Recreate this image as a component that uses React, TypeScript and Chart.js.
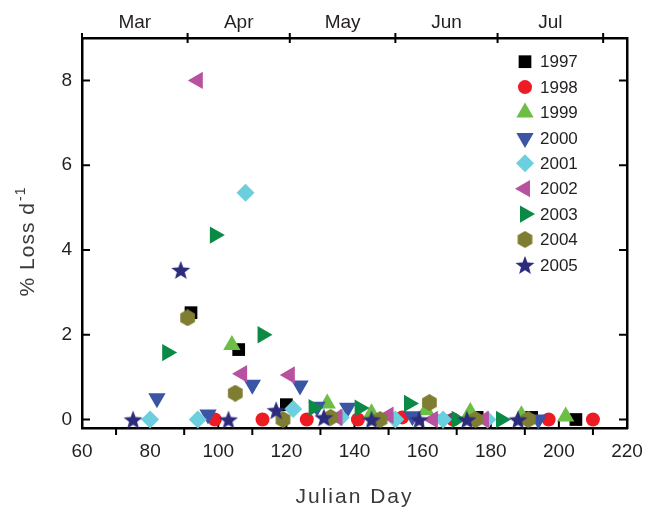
import React, { useEffect, useRef } from 'react';
import { Chart, registerables } from 'chart.js';
import { drawPoint } from 'chart.js/helpers';

Chart.register(...registerables);

// one entry per year, in legend order
const years = ['1997', '1998', '1999', '2000', '2001', '2002', '2003', '2004', '2005'];
const colors = ['#000000', '#ed1c24', '#6dbe45', '#3b55a5', '#6ccfdf', '#b8519f', '#0b8a45', '#7f7d32', '#2c2b7c'];

// Julian day / % loss per day
const day1997 = [92, 106, 120, 176, 192, 205];
const loss1997 = [2.52, 1.65, 0.35, 0.05, 0.05, 0];
const day1998 = [99, 113, 126, 141, 154, 169, 197, 210];
const loss1998 = [0, 0, 0, 0, 0.05, 0, 0, 0];
const day1999 = [104, 132, 145, 161, 174, 189, 202];
const loss1999 = [1.76, 0.38, 0.15, 0.22, 0.18, 0.1, 0.07];
const day2000 = [82, 97, 110, 124, 129, 138, 157, 166, 194];
const loss2000 = [0.5, 0.12, 0.82, 0.8, 0.3, 0.28, 0.08, 0, 0];
const day2001 = [80, 94, 108, 122, 136, 152, 166, 179];
const loss2001 = [0, 0, 5.35, 0.25, 0.05, 0, 0, 0];
const day2002 = [94, 107, 121, 135, 150, 163, 178];
const loss2002 = [8.0, 1.08, 1.05, 0.05, 0.1, 0, 0];
const day2003 = [85, 99, 113, 128, 141.5, 156, 170, 183];
const loss2003 = [1.58, 4.35, 2.0, 0.28, 0.27, 0.38, 0, 0];
const day2004 = [91, 105, 119, 133, 147.5, 162, 175.5, 191];
const loss2004 = [2.4, 0.62, 0, 0.05, 0, 0.4, 0, 0];
const day2005 = [75, 89, 103, 117, 131, 145, 159, 173, 188];
const loss2005 = [0, 3.53, 0, 0.22, 0.05, 0, 0, 0, 0];

const allDays = [day1997, day1998, day1999, day2000, day2001, day2002, day2003, day2004, day2005];
const allLoss = [loss1997, loss1998, loss1999, loss2000, loss2001, loss2002, loss2003, loss2004, loss2005];

const xTicks = [60, 80, 100, 120, 140, 160, 180, 200, 220];
const xMinorTicks = [70, 90, 110, 130, 150, 170, 190, 210];
const yTicks = [0, 2, 4, 6, 8];
const months = ['Mar', 'Apr', 'May', 'Jun', 'Jul'];
const monthStarts = [60, 91, 121, 152, 182, 213];

const tickFont = { family: '"Liberation Sans", Arial, sans-serif', size: 19 };
const textColor = '#231f20';

function makeStar(size: number, color: string) {
  const c = document.createElement('canvas');
  c.width = size;
  c.height = size;
  const ctx = c.getContext('2d')!;
  const R = size / 2;
  const r = R * 0.42;
  ctx.beginPath();
  for (let i = 0; i < 10; i++) {
    const a = -Math.PI / 2 + (i * Math.PI) / 5;
    const rad = i % 2 === 0 ? R : r;
    ctx.lineTo(R + rad * Math.cos(a), R + 1 + rad * Math.sin(a));
  }
  ctx.closePath();
  ctx.fillStyle = color;
  ctx.fill();
  return c;
}

function makeHex(size: number, color: string) {
  const c = document.createElement('canvas');
  c.width = size;
  c.height = size;
  const ctx = c.getContext('2d')!;
  const R = size / 2;
  ctx.beginPath();
  for (let i = 0; i < 6; i++) {
    const a = -Math.PI / 2 + (i * Math.PI) / 3;
    ctx.lineTo(R + R * Math.cos(a), R + R * Math.sin(a));
  }
  ctx.closePath();
  ctx.fillStyle = color;
  ctx.fill();
  return c;
}

// inward major ticks, outward minor ticks, month ticks across the top line
const axisTicks = {
  id: 'axisTicks',
  beforeDatasetsDraw(chart: any) {
    const { ctx, chartArea: a, scales } = chart;
    ctx.save();
    ctx.strokeStyle = '#000';
    ctx.lineWidth = 2;
    ctx.beginPath();
    yTicks.forEach((v) => {
      const py = scales.y.getPixelForValue(v);
      ctx.moveTo(a.left, py);
      ctx.lineTo(a.left + 8, py);
      ctx.moveTo(a.right, py);
      ctx.lineTo(a.right - 8, py);
    });
    xTicks.forEach((v) => {
      const px = scales.x.getPixelForValue(v);
      ctx.moveTo(px, a.bottom);
      ctx.lineTo(px, a.bottom - 8);
    });
    xMinorTicks.forEach((v) => {
      const px = scales.x.getPixelForValue(v);
      ctx.moveTo(px, a.bottom);
      ctx.lineTo(px, a.bottom + 7);
    });
    monthStarts.forEach((v) => {
      const px = scales.xTop.getPixelForValue(v);
      ctx.moveTo(px, a.top - 5);
      ctx.lineTo(px, a.top + 5);
    });
    ctx.stroke();
    ctx.restore();
  },
};

const insideLegend = {
  id: 'insideLegend',
  afterDatasetsDraw(chart: any) {
    const { ctx, chartArea: a } = chart;
    ctx.save();
    chart.data.datasets.forEach((ds: any, i: number) => {
      const x = a.right - 102;
      const y = a.top + 23.7 + i * 25.4;
      ctx.fillStyle = ds.pointBackgroundColor;
      drawPoint(ctx, { pointStyle: ds.pointStyle, rotation: ds.pointRotation, radius: ds.pointRadius, borderWidth: 0 } as any, x, y);
      ctx.fillStyle = textColor;
      ctx.font = '17px "Liberation Sans", Arial, sans-serif';
      ctx.textAlign = 'left';
      ctx.textBaseline = 'middle';
      ctx.fillText(ds.label, x + 15, y + 1);
    });
    ctx.restore();
  },
};

const axisTitles = {
  id: 'axisTitles',
  afterDraw(chart: any) {
    const { ctx, chartArea: a } = chart;
    ctx.save();
    ctx.fillStyle = '#3a3a3a';
    ctx.textBaseline = 'middle';
    ctx.font = '21px "Liberation Sans", Arial, sans-serif';
    (ctx as any).letterSpacing = '2px';
    ctx.textAlign = 'center';
    ctx.fillText('Julian Day', (a.left + a.right) / 2, 497);

    ctx.translate(28, 242);
    ctx.rotate(-Math.PI / 2);
    (ctx as any).letterSpacing = '1px';
    const main = '% Loss d';
    const sup = '-1';
    const w1 = ctx.measureText(main).width;
    ctx.font = '14px "Liberation Sans", Arial, sans-serif';
    const w2 = ctx.measureText(sup).width;
    const start = -(w1 + w2) / 2;
    ctx.textAlign = 'left';
    ctx.fillText(sup, start + w1 + 1, -7);
    ctx.font = '21px "Liberation Sans", Arial, sans-serif';
    ctx.fillText(main, start, 0);
    ctx.restore();
  },
};

const styles = ['rect', 'circle', 'triangle', 'triangle', 'rectRot', 'triangle', 'triangle', 'hex', 'star'];
const rotations = [0, 0, 0, 180, 0, 270, 90, 0, 0];
const radii = [9, 7, 10, 10, 9, 10, 10, 9, 10];

const App: React.FC = () => {
  const chartRef = useRef<HTMLCanvasElement>(null);

  useEffect(() => {
    if (!chartRef.current) return;
    const ctx = chartRef.current.getContext('2d');
    if (!ctx) return;

    const datasets = years.map((label, i) => {
      let pointStyle: any = styles[i];
      if (pointStyle === 'hex') pointStyle = makeHex(17, colors[i]);
      if (pointStyle === 'star') pointStyle = makeStar(20, colors[i]);
      return {
        label,
        data: allDays[i].map((d, j) => ({ x: d, y: allLoss[i][j] })),
        pointStyle,
        pointRotation: rotations[i],
        pointRadius: radii[i],
        pointBackgroundColor: colors[i],
        pointBorderWidth: 0,
        order: years.length - i,
        clip: false as any,
      };
    });

    const border = { display: true, color: '#000', width: 2.5 };
    const noGrid = { display: false, drawTicks: false };

    const chart = new Chart(ctx, {
      type: 'scatter',
      data: { datasets },
      options: {
        animation: false,
        responsive: true,
        maintainAspectRatio: false,
        events: [],
        layout: { padding: { top: 0, right: 32, bottom: 0, left: 0 } },
        plugins: { legend: { display: false }, tooltip: { enabled: false } },
        scales: {
          x: {
            type: 'linear',
            position: 'bottom',
            min: 60,
            max: 220,
            afterBuildTicks: (s: any) => {
              s.ticks = xTicks.map((v) => ({ value: v }));
            },
            afterFit: (s: any) => {
              s.height = 84;
            },
            ticks: { font: tickFont, color: textColor, padding: 12, maxRotation: 0, autoSkip: false },
            grid: noGrid,
            border,
          },
          xTop: {
            type: 'linear',
            position: 'top',
            min: 60,
            max: 220,
            afterBuildTicks: (s: any) => {
              s.ticks = months.map((_, i) => ({ value: (monthStarts[i] + monthStarts[i + 1]) / 2 }));
            },
            afterFit: (s: any) => {
              s.height = 38;
            },
            ticks: {
              font: tickFont,
              color: textColor,
              padding: 4,
              maxRotation: 0,
              autoSkip: false,
              callback: (_v: any, i: number) => months[i],
            },
            grid: noGrid,
            border,
          },
          y: {
            type: 'linear',
            position: 'left',
            min: -0.2,
            max: 9,
            afterBuildTicks: (s: any) => {
              s.ticks = yTicks.map((v) => ({ value: v }));
            },
            afterFit: (s: any) => {
              s.width = 82;
            },
            ticks: { font: tickFont, color: textColor, padding: 10 },
            grid: noGrid,
            border,
          },
          yRight: {
            type: 'linear',
            position: 'right',
            min: -0.2,
            max: 9,
            afterFit: (s: any) => {
              s.width = 0;
            },
            ticks: { display: false },
            grid: noGrid,
            border,
          },
        },
      },
      plugins: [axisTicks, insideLegend, axisTitles],
    });

    return () => {
      chart.destroy();
    };
  }, []);

  return (
    <div style={{ position: 'fixed', left: 0, top: 0, width: 659, height: 512, background: '#fff' }}>
      <canvas ref={chartRef} />
    </div>
  );
};

export default App;
